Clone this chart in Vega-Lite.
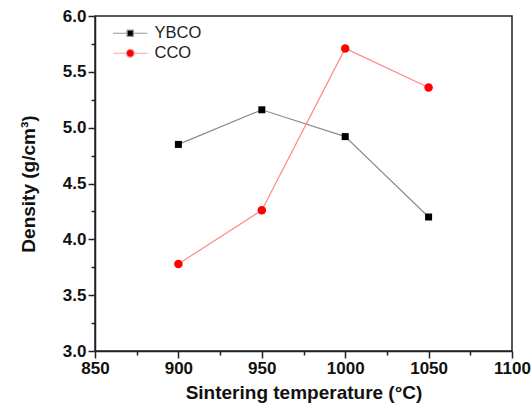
{
  "$schema": "https://vega.github.io/schema/vega-lite/v6.json",
  "width": 417,
  "height": 335,
  "autosize": "none",
  "padding": {"left": 95, "top": 16, "right": 19, "bottom": 61},
  "background": "white",
  "config": {
    "view": {"stroke": "#222", "strokeWidth": 1.5},
    "font": "Liberation Sans",
    "axis": {
      "domainColor": "#222", "domainWidth": 1.5, "tickColor": "#222", "tickWidth": 1.5,
      "labelFont": "Liberation Sans", "labelFontWeight": "bold", "labelFontSize": 17, "labelColor": "#111",
      "titleFont": "Liberation Sans", "titleFontWeight": "bold", "titleFontSize": 19, "titleColor": "#111",
      "grid": false
    }
  },
  "data": {
    "values": [
      {"series": "YBCO", "temp": 900, "density": 4.85},
      {"series": "YBCO", "temp": 950, "density": 5.16},
      {"series": "YBCO", "temp": 1000, "density": 4.92},
      {"series": "YBCO", "temp": 1050, "density": 4.20},
      {"series": "CCO", "temp": 900, "density": 3.78},
      {"series": "CCO", "temp": 950, "density": 4.26},
      {"series": "CCO", "temp": 1000, "density": 5.71},
      {"series": "CCO", "temp": 1050, "density": 5.36}
    ]
  },
  "encoding": {
    "x": {
      "field": "temp", "type": "quantitative",
      "scale": {"domain": [850, 1100], "nice": false, "zero": false},
      "axis": {
        "title": "Sintering temperature (°C)",
        "values": [850, 875, 900, 925, 950, 975, 1000, 1025, 1050, 1075, 1100],
        "format": "d",
        "labelExpr": "datum.value % 50 == 0 ? datum.label : ''",
        "tickSize": {"condition": {"test": "datum.value % 50 == 0", "value": 7}, "value": 4},
        "labelPadding": 2,
        "titlePadding": 7,
        "labelFlush": false
      }
    },
    "y": {
      "field": "density", "type": "quantitative",
      "scale": {"domain": [3, 6], "nice": false, "zero": false},
      "axis": {
        "title": "Density (g/cm³)",
        "values": [3, 3.25, 3.5, 3.75, 4, 4.25, 4.5, 4.75, 5, 5.25, 5.5, 5.75, 6],
        "format": ".1f",
        "labelExpr": "round(datum.value*4) % 2 == 0 ? datum.label : ''",
        "tickSize": {"condition": {"test": "round(datum.value*4) % 2 == 0", "value": 7}, "value": 4},
        "labelPadding": 2,
        "titlePadding": 24,
        "labelFlush": false
      }
    }
  },
  "layer": [
    {
      "transform": [{"filter": "datum.series == 'YBCO'"}],
      "mark": {"type": "line", "strokeWidth": 1.2, "color": "#8c8c8c"},
      "encoding": {}
    },
    {
      "transform": [{"filter": "datum.series == 'CCO'"}],
      "mark": {"type": "line", "strokeWidth": 1.2, "color": "#ff8a8a"},
      "encoding": {}
    },
    {
      "transform": [{"filter": "datum.series == 'YBCO'"}],
      "mark": {"type": "point", "filled": true, "opacity": 1, "shape": "square", "size": 49},
      "encoding": {
        "color": {
          "field": "series", "type": "nominal",
          "scale": {"domain": ["YBCO", "CCO"], "range": ["#000000", "#ff0000"]},
          "legend": {
            "title": null,
            "orient": "none",
            "legendX": 27,
            "legendY": 9,
            "padding": 0,
            "labelFont": "Liberation Sans",
            "labelFontSize": 16.5,
            "labelColor": "#222",
            "labelOffset": 16,
            "rowPadding": 3,
            "symbolSize": 49,
            "symbolType": {"expr": "datum.value == 'YBCO' ? 'M-4.9,0H-0.9M0.9,0H4.9M-0.9,-0.9H0.9V0.9H-0.9Z' : 'M-4.9,0H-1.15M1.15,0H4.9M-1.15,0A1.15,1.15 0 1,0 1.15,0A1.15,1.15 0 1,0 -1.15,0Z'"},
            "symbolStrokeColor": {"expr": "datum.value == 'YBCO' ? '#999999' : '#ffa0a0'"},
            "symbolStrokeWidth": 1.2,
            "symbolOpacity": 1
          }
        }
      }
    },
    {
      "transform": [{"filter": "datum.series == 'CCO'"}],
      "mark": {"type": "point", "filled": true, "opacity": 1, "shape": "circle", "size": 72},
      "encoding": {
        "color": {"field": "series", "type": "nominal"}
      }
    }
  ]
}
